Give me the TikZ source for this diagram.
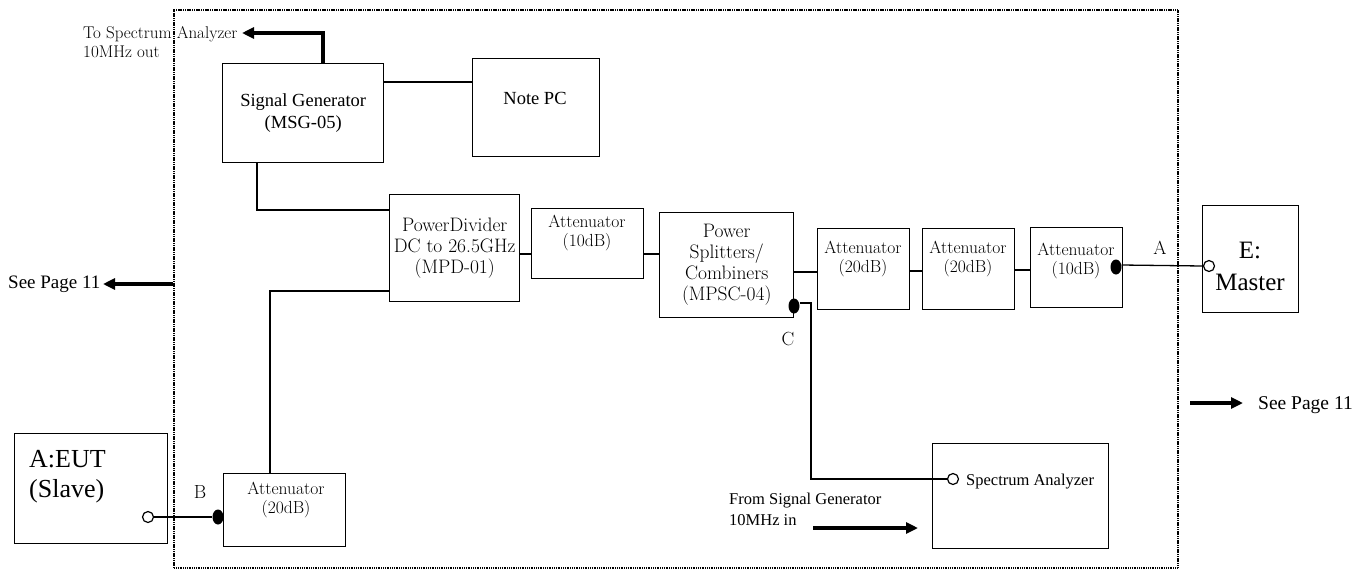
\documentclass[tikz,border=0pt]{standalone}
\usepackage{fontspec}
\newfontfamily\tms{Liberation Serif}
\usetikzlibrary{arrows.meta,shapes.geometric}
\newcommand\setfs[2]{\fontsize{#1}{#2}\selectfont}
\begin{document}
\begin{tikzpicture}[x=1pt,y=-1pt,
  box/.style={draw,line width=1.4pt,inner sep=0pt,anchor=north west},
  wire/.style={line width=1.3pt},
  thickwire/.style={line width=2.6pt},
  bigarrow/.style={line width=3.2pt,-{Triangle[length=12pt,width=11pt]}},
  frame/.style={draw,line width=2.2pt,dash pattern=on 1.1pt off 0.7pt,inner sep=0pt,anchor=north west},
  dot/.style={ellipse,fill,inner sep=0pt,minimum width=11pt,minimum height=15pt},
  port/.style={circle,draw,fill=white,line width=1.2pt,inner sep=0pt,minimum size=11pt},
  cen/.style={inner sep=0pt,align=center},
  lft/.style={inner sep=0pt,align=left,anchor=west},
  att/.style={cen,font=\setfs{17.5}{19}},
  big/.style={cen,font=\tms\setfs{18.5}{22}},
  lbl/.style={inner sep=0pt,font=\setfs{19}{20}}]
\useasboundingbox (0,0) rectangle (1371,574);

% outer dotted frame
\node[frame,minimum width=1004pt,minimum height=558pt] (frame) at (173,9) {};

% boxes
\node[box,minimum width=161pt,minimum height=99pt,big] (sg) at (222,63) {Signal Generator\\(MSG-05)};
\node[box,minimum width=127pt,minimum height=98pt] (np) at (472,58) {};
\node[big] (npt) at (535,98) {Note PC};
\node[box,minimum width=130pt,minimum height=107pt,cen,font=\setfs{19.5}{21}] (pd) at (389,194) {PowerDivider\\DC to 26.5GHz\\(MPD-01)};
\node[box,minimum width=112pt,minimum height=70pt] (a10) at (531,208) {};
\node[att] (a10t) at (587,233) {Attenuator\\(10dB)};
\node[box,minimum width=134pt,minimum height=105pt,cen,font=\setfs{19.5}{21}] (ps) at (659,212) {Power\\Splitters/\\Combiners\\(MPSC-04)};
\node[box,minimum width=92pt,minimum height=81pt] (a20a) at (817,228) {};
\node[att] (a20at) at (863,259) {Attenuator\\(20dB)};
\node[box,minimum width=92pt,minimum height=81pt] (a20b) at (922,228) {};
\node[att] (a20bt) at (968,259) {Attenuator\\(20dB)};
\node[box,minimum width=92pt,minimum height=80pt] (a10b) at (1030,227) {};
\node[att] (a10bt) at (1076,261) {Attenuator\\(10dB)};
\node[box,minimum width=96pt,minimum height=107pt] (em) at (1202,205) {};
\node[cen,font=\tms\setfs{25}{32}] (emt) at (1250,266) {E:\\Master};
\node[box,minimum width=176pt,minimum height=105pt] (sa) at (932,443) {};
\node[lft,font=\tms\setfs{16.5}{20}] (sat) at (966,482) {Spectrum Analyzer};
\node[box,minimum width=153pt,minimum height=110pt] (eut) at (14,433) {};
\node[lft,font=\tms\setfs{26}{30}] (eutt) at (29,477) {A:EUT\\(Slave)};
\node[box,minimum width=122pt,minimum height=73pt] (a20c) at (223,473) {};
\node[att] (a20ct) at (286,500) {Attenuator\\(20dB)};

% outside texts
\node[lft,font=\setfs{17}{19}] (tsa) at (83,42.5) {To Spectrum Analyzer\\10MHz out};
\coordinate (tsatip) at (242,33);
\node[lft,font=\tms\setfs{16.5}{21}] (fsg) at (729,509.5) {From Signal Generator\\10MHz in};
\node[lft,font=\tms\setfs{19}{22}] (sp1) at (8,284) {See Page 11};
\coordinate (sp1tip) at (103,284);
\node[lft,font=\tms\setfs{19.5}{22}] (sp2) at (1258,405) {See Page 11};
\coordinate (sp2a) at (1190,403);
\coordinate (sp2b) at (1243,403);
\coordinate (fsga) at (813,528);
\coordinate (fsgb) at (918,528);

% ports and dots
\node[dot] (dA) at (1116,267) {};
\node[port] (pE) at (1209,266) {};
\node[dot] (dC) at (794,306) {};
\node[port] (pS) at (953,479) {};
\node[port] (pB) at (148,517) {};
\node[dot] (dB) at (218,517) {};
\coordinate (cturn) at (811,303);

% labels
\node[lbl] (lA) at (1160,248) {A};
\node[lbl] (lB) at (200,492) {B};
\node[lbl] (lC) at (788,339) {C};

% connectors
\draw[wire] (sg.east |- 0,82) -- (np.west |- 0,82);
\draw[wire] (sg.south -| 257,0) |- (pd.west |- 0,210);
\draw[wire] (a20c.north -| 270,0) |- (pd.west |- 0,291);
\draw[wire] (pd.east |- 0,254) -- (a10.west |- 0,254);
\draw[wire] (a10.east |- 0,254) -- (ps.west |- 0,254);
\draw[thickwire] (ps.east |- 0,272) -- (a20a.west |- 0,272);
\draw[wire] (a20a.east |- 0,271) -- (a20b.west |- 0,271);
\draw[wire] (a20b.east |- 0,270) -- (a10b.west |- 0,270);
\draw[wire] (dA.east |- 0,265) -- (pE.west);
\draw[wire] (dC.east |- cturn) -- (cturn) |- (pS.west);
\draw[wire] (pB.east) -- (dB.west);
\draw[bigarrow] (sg.north -| 323,0) |- (tsatip);
\draw[bigarrow] (frame.west |- sp1tip) -- (sp1tip);
\draw[bigarrow] (sp2a) -- (sp2b);
\draw[bigarrow] (fsga) -- (fsgb);
\end{tikzpicture}
\end{document}
